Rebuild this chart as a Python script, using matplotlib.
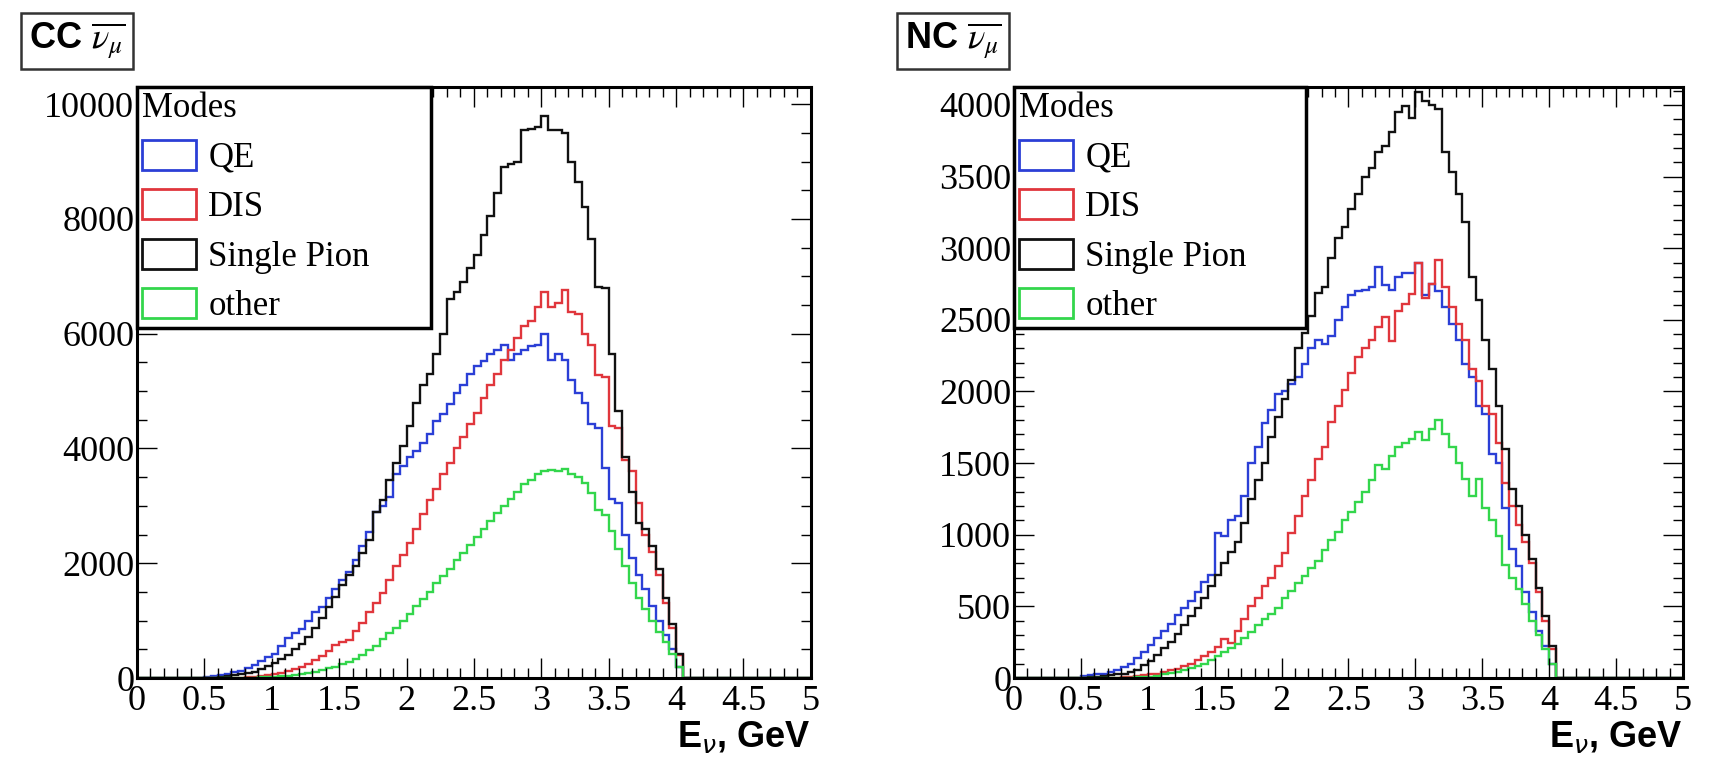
import numpy as np
import matplotlib
matplotlib.use("Agg")
import matplotlib.pyplot as plt
from matplotlib.patches import Patch
from matplotlib.ticker import MultipleLocator

# histogram: 100 bins of 0.05 GeV between 0 and 5 GeV
# values below are the bins from 0.50 GeV up to 4.05 GeV, all other bins are empty
e_edges = np.linspace(0, 5, 101)
first_bin = 10

cc_qe = [20, 35, 50, 70, 100, 130, 170, 220, 300, 360,
         420, 560, 700, 780, 850, 1000, 1150, 1230, 1400, 1550,
         1700, 1850, 2050, 2300, 2550, 2900, 3000, 3150, 3550, 3700,
         3850, 3950, 4100, 4250, 4480, 4600, 4780, 4970, 5100, 5300,
         5440, 5520, 5650, 5720, 5800, 5550, 5650, 5720, 5790, 5800,
         6000, 5550, 5650, 5550, 5200, 4970, 4800, 4420, 4350, 3660,
         3120, 3050, 2500, 2100, 1800, 1550, 1250, 1000, 750, 500,
         200, 0]
cc_dis = [0, 0, 0, 0, 5, 5, 10, 20, 30, 50,
          70, 90, 120, 150, 200, 250, 320, 380, 470, 580,
          630, 660, 820, 960, 1150, 1300, 1480, 1700, 1950, 2150,
          2350, 2600, 2850, 3100, 3300, 3550, 3750, 4000, 4200, 4420,
          4620, 4880, 5100, 5300, 5550, 5720, 5920, 6130, 6230, 6470,
          6720, 6470, 6540, 6760, 6380, 6340, 6000, 5800, 5280, 5250,
          4400, 4350, 3800, 3600, 3050, 2500, 2200, 1800, 1300, 880,
          400, 0]
cc_pion = [0, 5, 15, 30, 50, 70, 90, 110, 160, 210,
           260, 330, 400, 500, 600, 720, 880, 1050, 1230, 1420,
           1620, 1800, 1960, 2180, 2400, 2900, 3100, 3450, 3750, 4050,
           4400, 4800, 5100, 5300, 5650, 6000, 6600, 6720, 6900, 7150,
           7380, 7720, 8050, 8450, 8900, 8950, 9000, 9550, 9560, 9600,
           9800, 9550, 9550, 9500, 9000, 8650, 8200, 7650, 6820, 6800,
           5650, 4650, 3850, 3250, 2700, 2600, 2300, 1900, 1400, 950,
           420, 0]
cc_other = [0, 0, 0, 0, 0, 0, 5, 5, 15, 20,
            25, 30, 40, 55, 70, 90, 110, 140, 170, 200,
            240, 280, 340, 400, 480, 560, 680, 780, 880, 1000,
            1120, 1250, 1380, 1500, 1650, 1780, 1900, 2050, 2180, 2320,
            2450, 2600, 2730, 2880, 3000, 3120, 3250, 3380, 3450, 3560,
            3600, 3620, 3600, 3640, 3560, 3500, 3400, 3220, 2920, 2840,
            2570, 2250, 1950, 1650, 1400, 1200, 1000, 800, 620, 420,
            200, 0]

nc_qe = [15, 20, 25, 30, 40, 55, 75, 100, 140, 180,
         230, 280, 330, 380, 440, 490, 540, 600, 670, 720,
         1010, 990, 1100, 1130, 1270, 1500, 1610, 1780, 1870, 1980,
         2000, 2050, 2100, 2190, 2300, 2360, 2330, 2390, 2500, 2590,
         2670, 2700, 2710, 2730, 2870, 2740, 2710, 2800, 2830, 2830,
         2900, 2670, 2750, 2700, 2590, 2470, 2360, 2190, 2100, 1900,
         1840, 1560, 1500, 1190, 900, 780, 600, 460, 330, 220,
         100, 0]
nc_dis = [0, 0, 0, 0, 0, 0, 5, 10, 15, 20,
          25, 30, 40, 55, 65, 85, 100, 125, 155, 185,
          215, 270, 245, 330, 410, 500, 555, 640, 700, 780,
          870, 1010, 1130, 1270, 1385, 1530, 1610, 1785, 1900, 2010,
          2130, 2240, 2300, 2360, 2450, 2520, 2350, 2560, 2610, 2680,
          2900, 2650, 2750, 2920, 2730, 2590, 2470, 2360, 2160, 2070,
          1900, 1840, 1640, 1360, 1200, 1070, 950, 800, 600, 400,
          200, 0]
nc_pion = [0, 5, 10, 15, 20, 25, 30, 40, 55, 90,
           120, 160, 210, 250, 310, 370, 430, 490, 560, 640,
           720, 800, 880, 950, 1080, 1250, 1380, 1500, 1680, 1820,
           1950, 2080, 2300, 2410, 2530, 2690, 2730, 2930, 3070, 3150,
           3270, 3380, 3500, 3560, 3670, 3710, 3810, 3950, 3990, 3910,
           4090, 4030, 4000, 3970, 3670, 3530, 3380, 3180, 2800, 2640,
           2360, 2160, 1900, 1600, 1320, 1200, 1000, 830, 630, 430,
           220, 0]
nc_other = [0, 0, 0, 0, 0, 0, 0, 0, 5, 5,
            10, 15, 25, 35, 45, 55, 70, 85, 100, 125,
            155, 180, 210, 240, 280, 320, 370, 410, 450, 490,
            560, 610, 660, 710, 770, 820, 890, 960, 1020, 1100,
            1160, 1230, 1300, 1380, 1490, 1460, 1550, 1610, 1640, 1670,
            1720, 1660, 1740, 1800, 1700, 1610, 1500, 1390, 1270, 1390,
            1190, 1100, 990, 790, 700, 620, 520, 400, 300, 200,
            100, 0]

mode_names = ["QE", "DIS", "Single Pion", "other"]
mode_colors = ["#2b3fd6", "#e0363c", "#111111", "#33d64c"]

x_tick_labels = ["0", "0.5", "1", "1.5", "2", "2.5", "3", "3.5", "4", "4.5", "5"]
cc_y_ticks = [0, 2000, 4000, 6000, 8000, 10000]
nc_y_ticks = [0, 500, 1000, 1500, 2000, 2500, 3000, 3500, 4000]

panels = [
    (r"CC $\overline{\nu_{\mu}}$", [cc_qe, cc_dis, cc_pion, cc_other], cc_y_ticks, 10300, 500),
    (r"NC $\overline{\nu_{\mu}}$", [nc_qe, nc_dis, nc_pion, nc_other], nc_y_ticks, 4125, 100),
]


def full_hist(vals):
    return np.array([0] * first_bin + vals + [0] * (100 - first_bin - len(vals)), dtype=float)


plt.rcParams['font.family'] = ['Liberation Serif', 'DejaVu Serif']

fig = plt.figure(figsize=(17.14, 7.59), dpi=100)
ax_rects = [[0.0799, 0.1067, 0.3932, 0.7787], [0.5916, 0.1067, 0.3903, 0.7787]]
title_x = [0.017, 0.528]

for i, (title, series, yticks, ymax, yminor) in enumerate(panels):
    ax = fig.add_axes(ax_rects[i])
    for vals, col in zip(series, mode_colors):
        ax.stairs(full_hist(vals), e_edges, color=col, lw=1.7)

    ax.set_xlim(0, 5)
    ax.set_ylim(0, ymax)
    ax.set_xticks([float(s) for s in x_tick_labels], x_tick_labels)
    ax.xaxis.set_minor_locator(MultipleLocator(0.1))
    ax.set_yticks(yticks, [str(t) for t in yticks])
    ax.yaxis.set_minor_locator(MultipleLocator(yminor))
    ax.tick_params(which='both', direction='in', top=True, right=True, width=1.0)
    ax.tick_params(which='major', length=14.5, labelsize=26)
    ax.tick_params(which='minor', length=7.2)
    ax.tick_params(axis='x', pad=5)
    ax.tick_params(axis='y', pad=2)
    for sp in ax.spines.values():
        sp.set_linewidth(2.2)

    ax.set_xlabel(r"E$_{\nu}$, GeV", loc='right', fontsize=26, fontweight='bold',
                  family='Liberation Sans', math_fontfamily='dejavusans', labelpad=1)

    handles = [Patch(facecolor='none', edgecolor=c, lw=2) for c in mode_colors]
    leg = ax.legend(handles, mode_names, title="Modes", loc='upper left',
                    bbox_to_anchor=(0, 0, 0.437, 1), mode='expand', borderaxespad=0,
                    fontsize=25, title_fontsize=25, alignment='left',
                    handlelength=1.55, handleheight=0.95, handletextpad=0.35,
                    labelspacing=0.42, borderpad=0.15, fancybox=False, framealpha=1)
    leg.get_frame().set_edgecolor('black')
    leg.get_frame().set_linewidth(2.5)

    fig.text(title_x[i], 0.946, title, ha='left', va='center', fontsize=26,
             fontweight='bold', family='Liberation Sans', math_fontfamily='stix',
             bbox=dict(boxstyle='square,pad=0.22', fc='white', ec='#333333', lw=1.8))

fig.savefig("out.png", dpi=100)
